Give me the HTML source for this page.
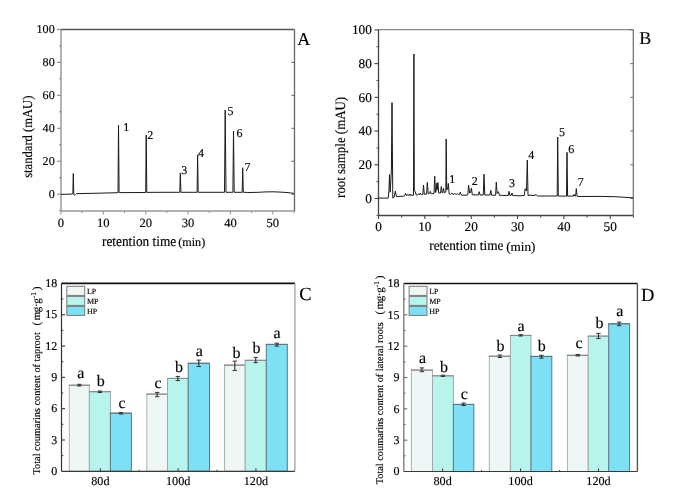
<!DOCTYPE html><html><head><meta charset="utf-8"><style>html,body{margin:0;padding:0;background:#fff;}svg{display:block;will-change:transform;} text{font-family:"Liberation Serif", serif;fill:#000;stroke:#000;stroke-width:0.15px;text-rendering:geometricPrecision;}</style></head><body>
<svg width="685" height="502" viewBox="0 0 685 502">
<rect width="685" height="502" fill="#fff"/>
<line x1="61.00" y1="29.50" x2="294.50" y2="29.50" stroke="#555" stroke-width="1.3"/>
<line x1="61.00" y1="29.50" x2="61.00" y2="211.00" stroke="#8a8a8a" stroke-width="1.3"/>
<line x1="61.00" y1="211.00" x2="294.50" y2="211.00" stroke="#999" stroke-width="1.3"/>
<line x1="294.50" y1="29.50" x2="294.50" y2="211.00" stroke="#666" stroke-width="1.3"/>
<line x1="59.00" y1="210.67" x2="61.00" y2="210.67" stroke="#8a8a8a" stroke-width="1.0"/>
<line x1="57.00" y1="194.20" x2="61.00" y2="194.20" stroke="#8a8a8a" stroke-width="1.1"/>
<line x1="291.50" y1="194.20" x2="294.50" y2="194.20" stroke="#666" stroke-width="1.1"/>
<text x="54.70" y="197.80" font-size="12.1" text-anchor="end" >0</text>
<line x1="59.00" y1="177.72" x2="61.00" y2="177.72" stroke="#8a8a8a" stroke-width="1.0"/>
<line x1="57.00" y1="161.25" x2="61.00" y2="161.25" stroke="#8a8a8a" stroke-width="1.1"/>
<line x1="291.50" y1="161.25" x2="294.50" y2="161.25" stroke="#666" stroke-width="1.1"/>
<text x="54.70" y="164.85" font-size="12.1" text-anchor="end" >20</text>
<line x1="59.00" y1="144.77" x2="61.00" y2="144.77" stroke="#8a8a8a" stroke-width="1.0"/>
<line x1="57.00" y1="128.30" x2="61.00" y2="128.30" stroke="#8a8a8a" stroke-width="1.1"/>
<line x1="291.50" y1="128.30" x2="294.50" y2="128.30" stroke="#666" stroke-width="1.1"/>
<text x="54.70" y="131.90" font-size="12.1" text-anchor="end" >40</text>
<line x1="59.00" y1="111.82" x2="61.00" y2="111.82" stroke="#8a8a8a" stroke-width="1.0"/>
<line x1="57.00" y1="95.35" x2="61.00" y2="95.35" stroke="#8a8a8a" stroke-width="1.1"/>
<line x1="291.50" y1="95.35" x2="294.50" y2="95.35" stroke="#666" stroke-width="1.1"/>
<text x="54.70" y="98.95" font-size="12.1" text-anchor="end" >60</text>
<line x1="59.00" y1="78.87" x2="61.00" y2="78.87" stroke="#8a8a8a" stroke-width="1.0"/>
<line x1="57.00" y1="62.40" x2="61.00" y2="62.40" stroke="#8a8a8a" stroke-width="1.1"/>
<line x1="291.50" y1="62.40" x2="294.50" y2="62.40" stroke="#666" stroke-width="1.1"/>
<text x="54.70" y="66.00" font-size="12.1" text-anchor="end" >80</text>
<line x1="59.00" y1="45.92" x2="61.00" y2="45.92" stroke="#8a8a8a" stroke-width="1.0"/>
<line x1="57.00" y1="29.45" x2="61.00" y2="29.45" stroke="#8a8a8a" stroke-width="1.1"/>
<line x1="291.50" y1="29.45" x2="294.50" y2="29.45" stroke="#666" stroke-width="1.1"/>
<text x="54.70" y="33.05" font-size="12.1" text-anchor="end" >100</text>
<line x1="61.00" y1="211.00" x2="61.00" y2="214.50" stroke="#999" stroke-width="1.1"/>
<text x="61.00" y="227.00" font-size="12.6" text-anchor="middle" >0</text>
<line x1="82.18" y1="211.00" x2="82.18" y2="213.20" stroke="#999" stroke-width="1.0"/>
<line x1="103.36" y1="211.00" x2="103.36" y2="214.50" stroke="#999" stroke-width="1.1"/>
<text x="103.36" y="227.00" font-size="12.6" text-anchor="middle" >10</text>
<line x1="124.54" y1="211.00" x2="124.54" y2="213.20" stroke="#999" stroke-width="1.0"/>
<line x1="145.72" y1="211.00" x2="145.72" y2="214.50" stroke="#999" stroke-width="1.1"/>
<text x="145.72" y="227.00" font-size="12.6" text-anchor="middle" >20</text>
<line x1="166.90" y1="211.00" x2="166.90" y2="213.20" stroke="#999" stroke-width="1.0"/>
<line x1="188.08" y1="211.00" x2="188.08" y2="214.50" stroke="#999" stroke-width="1.1"/>
<text x="188.08" y="227.00" font-size="12.6" text-anchor="middle" >30</text>
<line x1="209.26" y1="211.00" x2="209.26" y2="213.20" stroke="#999" stroke-width="1.0"/>
<line x1="230.44" y1="211.00" x2="230.44" y2="214.50" stroke="#999" stroke-width="1.1"/>
<text x="230.44" y="227.00" font-size="12.6" text-anchor="middle" >40</text>
<line x1="251.62" y1="211.00" x2="251.62" y2="213.20" stroke="#999" stroke-width="1.0"/>
<line x1="272.80" y1="211.00" x2="272.80" y2="214.50" stroke="#999" stroke-width="1.1"/>
<text x="272.80" y="227.00" font-size="12.6" text-anchor="middle" >50</text>
<line x1="293.98" y1="211.00" x2="293.98" y2="213.20" stroke="#999" stroke-width="1.0"/>
<path d="M61.00,194.40 L72.00,194.00 L72.85,193.80 L73.30,173.50 L73.80,194.50 L74.40,195.30 L75.40,194.60 L76.50,193.60 L90.00,193.40 L110.00,192.90 L118.00,192.70 L118.50,125.20 L119.10,192.60 L125.00,192.60 L145.70,192.50 L146.20,135.10 L146.80,192.40 L160.00,192.30 L179.80,192.30 L180.30,173.10 L180.90,192.30 L197.10,192.30 L197.60,154.80 L198.20,192.30 L224.50,192.30 L225.20,110.00 L226.00,192.30 L232.90,192.30 L233.50,131.30 L234.20,192.30 L242.20,192.30 L242.70,167.80 L243.30,192.30 L250.00,192.50 L258.00,192.30 L266.00,191.90 L274.00,191.80 L282.00,192.20 L288.00,192.60 L294.00,193.40" fill="none" stroke="#1a1a1a" stroke-width="1.0" stroke-linejoin="round"/>
<text x="123.30" y="130.90" font-size="12" text-anchor="start" >1</text>
<text x="147.20" y="138.90" font-size="12" text-anchor="start" >2</text>
<text x="181.20" y="173.90" font-size="12" text-anchor="start" >3</text>
<text x="198.10" y="156.70" font-size="12" text-anchor="start" >4</text>
<text x="227.40" y="114.70" font-size="12" text-anchor="start" >5</text>
<text x="236.50" y="136.80" font-size="12" text-anchor="start" >6</text>
<text x="244.50" y="170.60" font-size="12" text-anchor="start" >7</text>
<text transform="translate(102.00,245.70) scale(0.9091,1)" font-size="14.63">retention time</text>
<text x="178.20" y="245.70" font-size="12.2" text-anchor="start" >(min)</text>
<text transform="translate(31.90,136.70) rotate(-90) scale(0.9259,1)" font-size="13.61" text-anchor="middle">standard (mAU)</text>
<text x="297.20" y="45.30" font-size="18" text-anchor="start" >A</text>
<line x1="378.50" y1="29.70" x2="633.30" y2="29.70" stroke="#888" stroke-width="1.3"/>
<line x1="378.50" y1="29.70" x2="378.50" y2="215.50" stroke="#444" stroke-width="1.3"/>
<line x1="378.50" y1="215.50" x2="633.30" y2="215.50" stroke="#444" stroke-width="1.3"/>
<line x1="633.30" y1="29.70" x2="633.30" y2="215.50" stroke="#777" stroke-width="1.3"/>
<line x1="376.50" y1="215.36" x2="378.50" y2="215.36" stroke="#444" stroke-width="1.0"/>
<line x1="374.50" y1="198.50" x2="378.50" y2="198.50" stroke="#444" stroke-width="1.1"/>
<line x1="630.30" y1="198.50" x2="633.30" y2="198.50" stroke="#777" stroke-width="1.1"/>
<text x="371.90" y="202.70" font-size="13.3" text-anchor="end" >0</text>
<line x1="376.50" y1="181.64" x2="378.50" y2="181.64" stroke="#444" stroke-width="1.0"/>
<line x1="374.50" y1="164.78" x2="378.50" y2="164.78" stroke="#444" stroke-width="1.1"/>
<line x1="630.30" y1="164.78" x2="633.30" y2="164.78" stroke="#777" stroke-width="1.1"/>
<text x="371.90" y="168.98" font-size="13.3" text-anchor="end" >20</text>
<line x1="376.50" y1="147.92" x2="378.50" y2="147.92" stroke="#444" stroke-width="1.0"/>
<line x1="374.50" y1="131.06" x2="378.50" y2="131.06" stroke="#444" stroke-width="1.1"/>
<line x1="630.30" y1="131.06" x2="633.30" y2="131.06" stroke="#777" stroke-width="1.1"/>
<text x="371.90" y="135.26" font-size="13.3" text-anchor="end" >40</text>
<line x1="376.50" y1="114.20" x2="378.50" y2="114.20" stroke="#444" stroke-width="1.0"/>
<line x1="374.50" y1="97.34" x2="378.50" y2="97.34" stroke="#444" stroke-width="1.1"/>
<line x1="630.30" y1="97.34" x2="633.30" y2="97.34" stroke="#777" stroke-width="1.1"/>
<text x="371.90" y="101.54" font-size="13.3" text-anchor="end" >60</text>
<line x1="376.50" y1="80.48" x2="378.50" y2="80.48" stroke="#444" stroke-width="1.0"/>
<line x1="374.50" y1="63.62" x2="378.50" y2="63.62" stroke="#444" stroke-width="1.1"/>
<line x1="630.30" y1="63.62" x2="633.30" y2="63.62" stroke="#777" stroke-width="1.1"/>
<text x="371.90" y="67.82" font-size="13.3" text-anchor="end" >80</text>
<line x1="376.50" y1="46.76" x2="378.50" y2="46.76" stroke="#444" stroke-width="1.0"/>
<line x1="374.50" y1="29.90" x2="378.50" y2="29.90" stroke="#444" stroke-width="1.1"/>
<line x1="630.30" y1="29.90" x2="633.30" y2="29.90" stroke="#777" stroke-width="1.1"/>
<text x="371.90" y="34.10" font-size="13.3" text-anchor="end" >100</text>
<line x1="378.50" y1="215.50" x2="378.50" y2="219.00" stroke="#444" stroke-width="1.1"/>
<text x="378.50" y="231.40" font-size="13.3" text-anchor="middle" >0</text>
<line x1="401.68" y1="215.50" x2="401.68" y2="217.70" stroke="#444" stroke-width="1.0"/>
<line x1="424.85" y1="215.50" x2="424.85" y2="219.00" stroke="#444" stroke-width="1.1"/>
<text x="424.85" y="231.40" font-size="13.3" text-anchor="middle" >10</text>
<line x1="448.02" y1="215.50" x2="448.02" y2="217.70" stroke="#444" stroke-width="1.0"/>
<line x1="471.20" y1="215.50" x2="471.20" y2="219.00" stroke="#444" stroke-width="1.1"/>
<text x="471.20" y="231.40" font-size="13.3" text-anchor="middle" >20</text>
<line x1="494.38" y1="215.50" x2="494.38" y2="217.70" stroke="#444" stroke-width="1.0"/>
<line x1="517.55" y1="215.50" x2="517.55" y2="219.00" stroke="#444" stroke-width="1.1"/>
<text x="517.55" y="231.40" font-size="13.3" text-anchor="middle" >30</text>
<line x1="540.73" y1="215.50" x2="540.73" y2="217.70" stroke="#444" stroke-width="1.0"/>
<line x1="563.90" y1="215.50" x2="563.90" y2="219.00" stroke="#444" stroke-width="1.1"/>
<text x="563.90" y="231.40" font-size="13.3" text-anchor="middle" >40</text>
<line x1="587.08" y1="215.50" x2="587.08" y2="217.70" stroke="#444" stroke-width="1.0"/>
<line x1="610.25" y1="215.50" x2="610.25" y2="219.00" stroke="#444" stroke-width="1.1"/>
<text x="610.25" y="231.40" font-size="13.3" text-anchor="middle" >50</text>
<line x1="633.42" y1="215.50" x2="633.42" y2="217.70" stroke="#444" stroke-width="1.0"/>
<path d="M378.50,198.10 L388.20,198.10 L388.90,191.80 L389.50,174.60 L390.20,192.20 L391.40,170.00 L392.00,102.60 L392.40,150.00 L392.80,198.10 L394.20,197.00 L395.30,191.10 L396.50,196.80 L398.00,196.40 L404.00,196.20 L404.80,195.50 L405.50,193.30 L406.50,195.80 L407.50,194.50 L408.30,195.60 L409.20,194.20 L410.00,195.60 L410.80,194.20 L411.60,195.50 L413.50,195.20 L413.90,54.00 L414.30,190.00 L415.10,191.40 L416.30,195.10 L417.50,194.80 L418.70,193.90 L419.50,195.00 L420.30,193.00 L421.30,194.80 L422.80,194.40 L423.50,185.10 L424.30,194.30 L426.60,194.20 L427.30,182.50 L428.20,193.80 L429.50,193.40 L430.30,191.30 L431.20,193.80 L434.00,193.50 L434.70,176.20 L435.60,192.50 L436.30,190.00 L436.90,183.00 L437.40,189.50 L437.90,182.50 L438.70,193.00 L440.50,193.00 L441.30,186.50 L442.20,193.00 L442.80,192.50 L443.50,188.20 L444.30,193.00 L445.80,192.00 L446.20,139.00 L446.70,190.00 L447.60,189.00 L448.30,183.40 L449.20,194.00 L450.50,194.30 L451.90,193.00 L452.80,194.40 L454.00,194.30 L454.90,193.30 L455.80,194.50 L456.70,194.30 L457.30,193.50 L458.20,194.50 L459.50,194.40 L460.30,192.20 L461.00,194.60 L462.00,195.20 L467.20,195.20 L467.90,194.00 L468.60,185.00 L469.60,193.00 L470.60,192.50 L471.40,188.00 L472.30,194.80 L478.40,195.00 L479.20,191.70 L480.10,195.00 L483.30,195.00 L484.00,174.20 L484.80,195.00 L490.00,195.00 L490.80,190.40 L491.60,195.20 L495.60,195.20 L496.30,182.10 L497.10,193.50 L498.50,191.70 L499.50,195.30 L508.20,195.50 L509.00,191.30 L509.90,195.40 L511.20,195.30 L512.00,193.00 L512.80,195.60 L520.00,195.80 L524.30,195.50 L525.20,188.60 L526.50,191.00 L527.30,160.00 L528.00,195.50 L530.00,195.20 L534.00,195.50 L536.00,194.60 L537.50,196.00 L557.20,196.00 L557.70,137.00 L558.30,196.10 L566.50,196.10 L567.00,152.30 L567.60,196.10 L573.30,196.10 L574.00,194.40 L574.80,196.10 L575.60,196.00 L576.30,188.60 L577.10,196.30 L579.00,196.50 L600.00,196.40 L615.00,196.70 L633.00,197.80" fill="none" stroke="#1a1a1a" stroke-width="1.0" stroke-linejoin="round"/>
<text x="449.20" y="183.20" font-size="12" text-anchor="start" >1</text>
<text x="471.70" y="184.50" font-size="12" text-anchor="start" >2</text>
<text x="508.90" y="186.70" font-size="12" text-anchor="start" >3</text>
<text x="528.30" y="159.00" font-size="12" text-anchor="start" >4</text>
<text x="558.90" y="136.20" font-size="12" text-anchor="start" >5</text>
<text x="568.30" y="153.00" font-size="12" text-anchor="start" >6</text>
<text x="577.70" y="185.70" font-size="12" text-anchor="start" >7</text>
<text transform="translate(429.20,250.00) scale(0.9524,1)" font-size="13.97">retention time</text>
<text x="506.20" y="250.60" font-size="13.2" text-anchor="start" >(min)</text>
<text transform="translate(345.10,147.40) rotate(-90) scale(0.9091,1)" font-size="14.19" text-anchor="middle">root sample (mAU)</text>
<text x="639.30" y="43.60" font-size="18" text-anchor="start" >B</text>
<rect x="69.30" y="385.20" width="20.10" height="86.10" fill="#eef7f6" stroke="#b0b0b0" stroke-width="1"/>
<line x1="68.80" y1="385.20" x2="89.90" y2="385.20" stroke="#7a7a7a" stroke-width="1.0"/>
<rect x="89.40" y="391.70" width="21.00" height="79.60" fill="#b6f4ec" stroke="#a0aaa8" stroke-width="1"/>
<line x1="88.90" y1="391.70" x2="110.90" y2="391.70" stroke="#808a88" stroke-width="1.0"/>
<rect x="110.40" y="413.20" width="21.00" height="58.10" fill="#7de0f5" stroke="#587a80" stroke-width="1"/>
<line x1="109.90" y1="413.20" x2="131.90" y2="413.20" stroke="#587a80" stroke-width="1.0"/>
<line x1="79.35" y1="384.30" x2="79.35" y2="386.00" stroke="#1a1a1a" stroke-width="1.0"/>
<line x1="77.15" y1="384.30" x2="81.55" y2="384.30" stroke="#333" stroke-width="1.0"/>
<line x1="77.15" y1="386.00" x2="81.55" y2="386.00" stroke="#333" stroke-width="1.0"/>
<text x="80.70" y="377.70" font-size="16" text-anchor="middle" >a</text>
<line x1="99.90" y1="391.00" x2="99.90" y2="392.50" stroke="#1a1a1a" stroke-width="1.0"/>
<line x1="97.70" y1="391.00" x2="102.10" y2="391.00" stroke="#333" stroke-width="1.0"/>
<line x1="97.70" y1="392.50" x2="102.10" y2="392.50" stroke="#333" stroke-width="1.0"/>
<text x="100.75" y="385.70" font-size="16" text-anchor="middle" >b</text>
<line x1="120.90" y1="412.60" x2="120.90" y2="414.00" stroke="#1a1a1a" stroke-width="1.0"/>
<line x1="118.70" y1="412.60" x2="123.10" y2="412.60" stroke="#333" stroke-width="1.0"/>
<line x1="118.70" y1="414.00" x2="123.10" y2="414.00" stroke="#333" stroke-width="1.0"/>
<text x="122.05" y="407.60" font-size="16" text-anchor="middle" >c</text>
<rect x="146.80" y="394.10" width="20.70" height="77.20" fill="#eef7f6" stroke="#b0b0b0" stroke-width="1"/>
<line x1="146.30" y1="394.10" x2="168.00" y2="394.10" stroke="#7a7a7a" stroke-width="1.0"/>
<rect x="167.50" y="378.40" width="20.70" height="92.90" fill="#b6f4ec" stroke="#a0aaa8" stroke-width="1"/>
<line x1="167.00" y1="378.40" x2="188.70" y2="378.40" stroke="#808a88" stroke-width="1.0"/>
<rect x="188.20" y="363.30" width="21.30" height="108.00" fill="#7de0f5" stroke="#587a80" stroke-width="1"/>
<line x1="187.70" y1="363.30" x2="210.00" y2="363.30" stroke="#587a80" stroke-width="1.0"/>
<line x1="157.15" y1="392.40" x2="157.15" y2="396.70" stroke="#1a1a1a" stroke-width="1.0"/>
<line x1="154.95" y1="392.40" x2="159.35" y2="392.40" stroke="#333" stroke-width="1.0"/>
<line x1="154.95" y1="396.70" x2="159.35" y2="396.70" stroke="#333" stroke-width="1.0"/>
<text x="158.00" y="387.60" font-size="16" text-anchor="middle" >c</text>
<line x1="177.85" y1="376.40" x2="177.85" y2="380.60" stroke="#1a1a1a" stroke-width="1.0"/>
<line x1="175.65" y1="376.40" x2="180.05" y2="376.40" stroke="#333" stroke-width="1.0"/>
<line x1="175.65" y1="380.60" x2="180.05" y2="380.60" stroke="#333" stroke-width="1.0"/>
<text x="179.00" y="371.80" font-size="16" text-anchor="middle" >b</text>
<line x1="198.85" y1="360.10" x2="198.85" y2="366.50" stroke="#1a1a1a" stroke-width="1.0"/>
<line x1="196.65" y1="360.10" x2="201.05" y2="360.10" stroke="#333" stroke-width="1.0"/>
<line x1="196.65" y1="366.50" x2="201.05" y2="366.50" stroke="#333" stroke-width="1.0"/>
<text x="199.20" y="355.60" font-size="16" text-anchor="middle" >a</text>
<rect x="224.50" y="365.10" width="20.70" height="106.20" fill="#eef7f6" stroke="#b0b0b0" stroke-width="1"/>
<line x1="224.00" y1="365.10" x2="245.70" y2="365.10" stroke="#7a7a7a" stroke-width="1.0"/>
<rect x="245.20" y="360.30" width="21.10" height="111.00" fill="#b6f4ec" stroke="#a0aaa8" stroke-width="1"/>
<line x1="244.70" y1="360.30" x2="266.80" y2="360.30" stroke="#808a88" stroke-width="1.0"/>
<rect x="266.30" y="344.40" width="21.00" height="126.90" fill="#7de0f5" stroke="#587a80" stroke-width="1"/>
<line x1="265.80" y1="344.40" x2="287.80" y2="344.40" stroke="#587a80" stroke-width="1.0"/>
<line x1="234.85" y1="361.10" x2="234.85" y2="370.40" stroke="#1a1a1a" stroke-width="1.0"/>
<line x1="232.65" y1="361.10" x2="237.05" y2="361.10" stroke="#333" stroke-width="1.0"/>
<line x1="232.65" y1="370.40" x2="237.05" y2="370.40" stroke="#333" stroke-width="1.0"/>
<text x="236.60" y="357.80" font-size="16" text-anchor="middle" >b</text>
<line x1="255.75" y1="357.40" x2="255.75" y2="362.70" stroke="#1a1a1a" stroke-width="1.0"/>
<line x1="253.55" y1="357.40" x2="257.95" y2="357.40" stroke="#333" stroke-width="1.0"/>
<line x1="253.55" y1="362.70" x2="257.95" y2="362.70" stroke="#333" stroke-width="1.0"/>
<text x="256.40" y="353.10" font-size="16" text-anchor="middle" >b</text>
<line x1="276.80" y1="343.20" x2="276.80" y2="346.10" stroke="#1a1a1a" stroke-width="1.0"/>
<line x1="274.60" y1="343.20" x2="279.00" y2="343.20" stroke="#333" stroke-width="1.0"/>
<line x1="274.60" y1="346.10" x2="279.00" y2="346.10" stroke="#333" stroke-width="1.0"/>
<text x="277.05" y="337.50" font-size="16" text-anchor="middle" >a</text>
<line x1="61.50" y1="283.40" x2="294.90" y2="283.40" stroke="#111" stroke-width="1.6"/>
<line x1="61.50" y1="283.40" x2="61.50" y2="471.30" stroke="#333" stroke-width="1.2"/>
<line x1="61.50" y1="471.30" x2="294.90" y2="471.30" stroke="#3a3a3a" stroke-width="1.2"/>
<line x1="294.90" y1="283.40" x2="294.90" y2="471.30" stroke="#a8a8a8" stroke-width="1.4"/>
<text x="57.20" y="475.00" font-size="12" text-anchor="end" >0</text>
<line x1="61.50" y1="455.64" x2="63.30" y2="455.64" stroke="#333" stroke-width="1.0"/>
<line x1="61.50" y1="439.98" x2="65.00" y2="439.98" stroke="#333" stroke-width="1.1"/>
<text x="57.20" y="443.68" font-size="12" text-anchor="end" >3</text>
<line x1="61.50" y1="424.32" x2="63.30" y2="424.32" stroke="#333" stroke-width="1.0"/>
<line x1="61.50" y1="408.67" x2="65.00" y2="408.67" stroke="#333" stroke-width="1.1"/>
<text x="57.20" y="412.37" font-size="12" text-anchor="end" >6</text>
<line x1="61.50" y1="393.01" x2="63.30" y2="393.01" stroke="#333" stroke-width="1.0"/>
<line x1="61.50" y1="377.35" x2="65.00" y2="377.35" stroke="#333" stroke-width="1.1"/>
<text x="57.20" y="381.05" font-size="12" text-anchor="end" >9</text>
<line x1="61.50" y1="361.69" x2="63.30" y2="361.69" stroke="#333" stroke-width="1.0"/>
<line x1="61.50" y1="346.03" x2="65.00" y2="346.03" stroke="#333" stroke-width="1.1"/>
<text x="57.20" y="349.73" font-size="12" text-anchor="end" >12</text>
<line x1="61.50" y1="330.38" x2="63.30" y2="330.38" stroke="#333" stroke-width="1.0"/>
<line x1="61.50" y1="314.72" x2="65.00" y2="314.72" stroke="#333" stroke-width="1.1"/>
<text x="57.20" y="318.42" font-size="12" text-anchor="end" >15</text>
<line x1="61.50" y1="299.06" x2="63.30" y2="299.06" stroke="#333" stroke-width="1.0"/>
<text x="57.20" y="287.10" font-size="12" text-anchor="end" >18</text>
<line x1="100.35" y1="471.30" x2="100.35" y2="468.30" stroke="#3a3a3a" stroke-width="1.0"/>
<text x="100.35" y="484.80" font-size="12.2" text-anchor="middle" >80d</text>
<line x1="139.10" y1="471.30" x2="139.10" y2="469.80" stroke="#3a3a3a" stroke-width="1.0"/>
<line x1="178.15" y1="471.30" x2="178.15" y2="468.30" stroke="#3a3a3a" stroke-width="1.0"/>
<text x="178.15" y="484.80" font-size="12.2" text-anchor="middle" >100d</text>
<line x1="217.00" y1="471.30" x2="217.00" y2="469.80" stroke="#3a3a3a" stroke-width="1.0"/>
<line x1="255.90" y1="471.30" x2="255.90" y2="468.30" stroke="#3a3a3a" stroke-width="1.0"/>
<text x="255.90" y="484.80" font-size="12.2" text-anchor="middle" >120d</text>
<rect x="66.80" y="286.30" width="17.9" height="9.10" fill="#eef7f6" stroke="#7a7a7a" stroke-width="1"/>
<text x="86.90" y="293.60" font-size="8" text-anchor="start" >LP</text>
<rect x="66.80" y="296.40" width="17.9" height="9.00" fill="#b6f4ec" stroke="#7a7a7a" stroke-width="1"/>
<text x="86.90" y="303.60" font-size="8" text-anchor="start" >MP</text>
<rect x="66.80" y="306.40" width="17.9" height="9.00" fill="#7de0f5" stroke="#7a7a7a" stroke-width="1"/>
<text x="86.90" y="313.60" font-size="8" text-anchor="start" >HP</text>
<text transform="translate(40.20,474.50) rotate(-90)" font-size="10.3" text-anchor="start">Total coumarins content of taproot<tspan dx="6.8" font-size="11">(</tspan><tspan dx="1.6" font-size="11">m</tspan><tspan dx="-0.6" font-size="11">g</tspan><tspan dx="-0.4" font-size="11">·</tspan><tspan dx="-0.4" font-size="11">g</tspan><tspan dy="-4" font-size="7.5">-1</tspan><tspan dy="4" dx="1.8" font-size="11">)</tspan></text>
<text x="299.30" y="299.50" font-size="18.5" text-anchor="start" >C</text>
<rect x="411.40" y="370.10" width="21.10" height="101.40" fill="#eef7f6" stroke="#b0b0b0" stroke-width="1"/>
<line x1="410.90" y1="370.10" x2="433.00" y2="370.10" stroke="#7a7a7a" stroke-width="1.0"/>
<rect x="432.50" y="375.80" width="20.90" height="95.70" fill="#b6f4ec" stroke="#a0aaa8" stroke-width="1"/>
<line x1="432.00" y1="375.80" x2="453.90" y2="375.80" stroke="#808a88" stroke-width="1.0"/>
<rect x="453.40" y="404.40" width="20.40" height="67.10" fill="#7de0f5" stroke="#587a80" stroke-width="1"/>
<line x1="452.90" y1="404.40" x2="474.30" y2="404.40" stroke="#587a80" stroke-width="1.0"/>
<line x1="421.95" y1="367.90" x2="421.95" y2="371.70" stroke="#1a1a1a" stroke-width="1.0"/>
<line x1="419.75" y1="367.90" x2="424.15" y2="367.90" stroke="#333" stroke-width="1.0"/>
<line x1="419.75" y1="371.70" x2="424.15" y2="371.70" stroke="#333" stroke-width="1.0"/>
<text x="422.50" y="363.10" font-size="16" text-anchor="middle" >a</text>
<line x1="442.95" y1="375.20" x2="442.95" y2="376.50" stroke="#1a1a1a" stroke-width="1.0"/>
<line x1="440.75" y1="375.20" x2="445.15" y2="375.20" stroke="#333" stroke-width="1.0"/>
<line x1="440.75" y1="376.50" x2="445.15" y2="376.50" stroke="#333" stroke-width="1.0"/>
<text x="444.00" y="371.50" font-size="16" text-anchor="middle" >b</text>
<line x1="463.60" y1="403.10" x2="463.60" y2="405.50" stroke="#1a1a1a" stroke-width="1.0"/>
<line x1="461.40" y1="403.10" x2="465.80" y2="403.10" stroke="#333" stroke-width="1.0"/>
<line x1="461.40" y1="405.50" x2="465.80" y2="405.50" stroke="#333" stroke-width="1.0"/>
<text x="464.40" y="399.20" font-size="16" text-anchor="middle" >c</text>
<rect x="489.30" y="356.20" width="21.10" height="115.30" fill="#eef7f6" stroke="#b0b0b0" stroke-width="1"/>
<line x1="488.80" y1="356.20" x2="510.90" y2="356.20" stroke="#7a7a7a" stroke-width="1.0"/>
<rect x="510.40" y="335.40" width="20.60" height="136.10" fill="#b6f4ec" stroke="#a0aaa8" stroke-width="1"/>
<line x1="509.90" y1="335.40" x2="531.50" y2="335.40" stroke="#808a88" stroke-width="1.0"/>
<rect x="531.00" y="356.40" width="20.80" height="115.10" fill="#7de0f5" stroke="#587a80" stroke-width="1"/>
<line x1="530.50" y1="356.40" x2="552.30" y2="356.40" stroke="#587a80" stroke-width="1.0"/>
<line x1="499.85" y1="355.00" x2="499.85" y2="357.50" stroke="#1a1a1a" stroke-width="1.0"/>
<line x1="497.65" y1="355.00" x2="502.05" y2="355.00" stroke="#333" stroke-width="1.0"/>
<line x1="497.65" y1="357.50" x2="502.05" y2="357.50" stroke="#333" stroke-width="1.0"/>
<text x="500.50" y="350.90" font-size="16" text-anchor="middle" >b</text>
<line x1="520.70" y1="334.70" x2="520.70" y2="336.00" stroke="#1a1a1a" stroke-width="1.0"/>
<line x1="518.50" y1="334.70" x2="522.90" y2="334.70" stroke="#333" stroke-width="1.0"/>
<line x1="518.50" y1="336.00" x2="522.90" y2="336.00" stroke="#333" stroke-width="1.0"/>
<text x="521.15" y="331.20" font-size="16" text-anchor="middle" >a</text>
<line x1="541.40" y1="355.30" x2="541.40" y2="358.20" stroke="#1a1a1a" stroke-width="1.0"/>
<line x1="539.20" y1="355.30" x2="543.60" y2="355.30" stroke="#333" stroke-width="1.0"/>
<line x1="539.20" y1="358.20" x2="543.60" y2="358.20" stroke="#333" stroke-width="1.0"/>
<text x="541.80" y="350.90" font-size="16" text-anchor="middle" >b</text>
<rect x="567.40" y="355.30" width="20.80" height="116.20" fill="#eef7f6" stroke="#b0b0b0" stroke-width="1"/>
<line x1="566.90" y1="355.30" x2="588.70" y2="355.30" stroke="#7a7a7a" stroke-width="1.0"/>
<rect x="588.20" y="336.10" width="20.50" height="135.40" fill="#b6f4ec" stroke="#a0aaa8" stroke-width="1"/>
<line x1="587.70" y1="336.10" x2="609.20" y2="336.10" stroke="#808a88" stroke-width="1.0"/>
<rect x="608.70" y="323.80" width="20.90" height="147.70" fill="#7de0f5" stroke="#587a80" stroke-width="1"/>
<line x1="608.20" y1="323.80" x2="630.10" y2="323.80" stroke="#587a80" stroke-width="1.0"/>
<line x1="577.80" y1="354.50" x2="577.80" y2="356.00" stroke="#1a1a1a" stroke-width="1.0"/>
<line x1="575.60" y1="354.50" x2="580.00" y2="354.50" stroke="#333" stroke-width="1.0"/>
<line x1="575.60" y1="356.00" x2="580.00" y2="356.00" stroke="#333" stroke-width="1.0"/>
<text x="579.15" y="348.40" font-size="16" text-anchor="middle" >c</text>
<line x1="598.45" y1="333.40" x2="598.45" y2="338.50" stroke="#1a1a1a" stroke-width="1.0"/>
<line x1="596.25" y1="333.40" x2="600.65" y2="333.40" stroke="#333" stroke-width="1.0"/>
<line x1="596.25" y1="338.50" x2="600.65" y2="338.50" stroke="#333" stroke-width="1.0"/>
<text x="599.40" y="328.40" font-size="16" text-anchor="middle" >b</text>
<line x1="619.15" y1="322.10" x2="619.15" y2="325.70" stroke="#1a1a1a" stroke-width="1.0"/>
<line x1="616.95" y1="322.10" x2="621.35" y2="322.10" stroke="#333" stroke-width="1.0"/>
<line x1="616.95" y1="325.70" x2="621.35" y2="325.70" stroke="#333" stroke-width="1.0"/>
<text x="619.75" y="316.10" font-size="16" text-anchor="middle" >a</text>
<line x1="403.80" y1="283.50" x2="637.40" y2="283.50" stroke="#111" stroke-width="1.6"/>
<line x1="403.80" y1="283.50" x2="403.80" y2="471.50" stroke="#6a6a6a" stroke-width="1.2"/>
<line x1="403.80" y1="471.50" x2="637.40" y2="471.50" stroke="#3a3a3a" stroke-width="1.2"/>
<line x1="637.40" y1="283.50" x2="637.40" y2="471.50" stroke="#555" stroke-width="1.4"/>
<text x="399.50" y="475.20" font-size="12" text-anchor="end" >0</text>
<line x1="403.80" y1="455.83" x2="405.60" y2="455.83" stroke="#6a6a6a" stroke-width="1.0"/>
<line x1="403.80" y1="440.17" x2="407.30" y2="440.17" stroke="#6a6a6a" stroke-width="1.1"/>
<text x="399.50" y="443.87" font-size="12" text-anchor="end" >3</text>
<line x1="403.80" y1="424.50" x2="405.60" y2="424.50" stroke="#6a6a6a" stroke-width="1.0"/>
<line x1="403.80" y1="408.83" x2="407.30" y2="408.83" stroke="#6a6a6a" stroke-width="1.1"/>
<text x="399.50" y="412.53" font-size="12" text-anchor="end" >6</text>
<line x1="403.80" y1="393.17" x2="405.60" y2="393.17" stroke="#6a6a6a" stroke-width="1.0"/>
<line x1="403.80" y1="377.50" x2="407.30" y2="377.50" stroke="#6a6a6a" stroke-width="1.1"/>
<text x="399.50" y="381.20" font-size="12" text-anchor="end" >9</text>
<line x1="403.80" y1="361.83" x2="405.60" y2="361.83" stroke="#6a6a6a" stroke-width="1.0"/>
<line x1="403.80" y1="346.17" x2="407.30" y2="346.17" stroke="#6a6a6a" stroke-width="1.1"/>
<text x="399.50" y="349.87" font-size="12" text-anchor="end" >12</text>
<line x1="403.80" y1="330.50" x2="405.60" y2="330.50" stroke="#6a6a6a" stroke-width="1.0"/>
<line x1="403.80" y1="314.83" x2="407.30" y2="314.83" stroke="#6a6a6a" stroke-width="1.1"/>
<text x="399.50" y="318.53" font-size="12" text-anchor="end" >15</text>
<line x1="403.80" y1="299.17" x2="405.60" y2="299.17" stroke="#6a6a6a" stroke-width="1.0"/>
<text x="399.50" y="287.20" font-size="12" text-anchor="end" >18</text>
<line x1="442.60" y1="471.50" x2="442.60" y2="468.50" stroke="#3a3a3a" stroke-width="1.0"/>
<text x="442.60" y="485.00" font-size="12.2" text-anchor="middle" >80d</text>
<line x1="481.55" y1="471.50" x2="481.55" y2="470.00" stroke="#3a3a3a" stroke-width="1.0"/>
<line x1="520.55" y1="471.50" x2="520.55" y2="468.50" stroke="#3a3a3a" stroke-width="1.0"/>
<text x="520.55" y="485.00" font-size="12.2" text-anchor="middle" >100d</text>
<line x1="559.60" y1="471.50" x2="559.60" y2="470.00" stroke="#3a3a3a" stroke-width="1.0"/>
<line x1="598.50" y1="471.50" x2="598.50" y2="468.50" stroke="#3a3a3a" stroke-width="1.0"/>
<text x="598.50" y="485.00" font-size="12.2" text-anchor="middle" >120d</text>
<rect x="409.10" y="286.30" width="17.9" height="9.10" fill="#eef7f6" stroke="#7a7a7a" stroke-width="1"/>
<text x="429.20" y="293.60" font-size="8" text-anchor="start" >LP</text>
<rect x="409.10" y="296.40" width="17.9" height="9.00" fill="#b6f4ec" stroke="#7a7a7a" stroke-width="1"/>
<text x="429.20" y="303.60" font-size="8" text-anchor="start" >MP</text>
<rect x="409.10" y="306.40" width="17.9" height="9.00" fill="#7de0f5" stroke="#7a7a7a" stroke-width="1"/>
<text x="429.20" y="313.60" font-size="8" text-anchor="start" >HP</text>
<text transform="translate(383.20,484.30) rotate(-90)" font-size="10.3" text-anchor="start">Total coumarins content of lateral roots<tspan dx="7.9" font-size="11">(</tspan><tspan dx="1.6" font-size="11">m</tspan><tspan dx="-0.6" font-size="11">g</tspan><tspan dx="-0.4" font-size="11">·</tspan><tspan dx="-0.4" font-size="11">g</tspan><tspan dy="-4" font-size="7.5">-1</tspan><tspan dy="4" dx="1.8" font-size="11">)</tspan></text>
<text x="641.00" y="301.10" font-size="18.5" text-anchor="start" >D</text>
</svg></body></html>
